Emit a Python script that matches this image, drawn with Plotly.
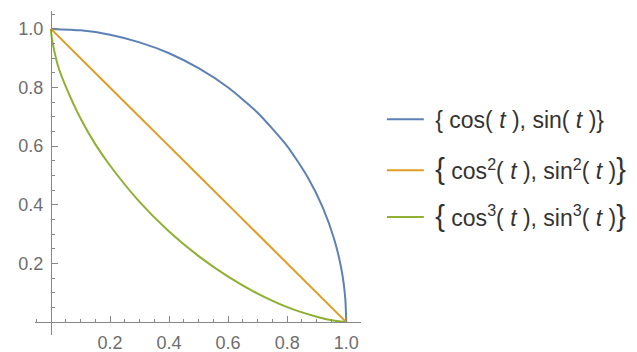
import plotly.graph_objects as go

# Values
blue_x = [0.0, 0.1, 0.2, 0.3, 0.4, 0.5, 0.6, 0.7, 0.8, 0.87, 0.92, 0.96, 0.985, 0.997, 1.0]
blue_y = [1.0, 0.995, 0.98, 0.954, 0.917, 0.866, 0.80, 0.714, 0.60, 0.493, 0.392, 0.28, 0.173, 0.077, 0.0]

orange_x = [0.0, 0.25, 0.5, 0.75, 1.0]
orange_y = [1.0, 0.75, 0.5, 0.25, 0.0]

green_x = [0.0, 0.001, 0.003, 0.01, 0.025, 0.05, 0.1, 0.15, 0.2, 0.3, 0.4, 0.5, 0.6, 0.7, 0.8, 0.9, 0.95, 1.0]
green_y = [1.0, 0.985, 0.969, 0.931, 0.87, 0.804, 0.695, 0.607, 0.534, 0.41, 0.309, 0.225, 0.155, 0.097, 0.051, 0.018, 0.006, 0.0]

big = "<span style='font-size:29px'>%s</span>"
names = [
    "&nbsp;{ cos( <i>t</i> ), sin( <i>t</i> )}",
    "&nbsp;" + big % "{" + " cos<sup>2</sup>( <i>t</i> ), sin<sup>2</sup>( <i>t</i> )" + big % "}",
    "&nbsp;" + big % "{" + " cos<sup>3</sup>( <i>t</i> ), sin<sup>3</sup>( <i>t</i> )" + big % "}",
]
colors = ["#5E81B5", "#E19C24", "#8FB032"]

tick_vals = [0.2, 0.4, 0.6, 0.8, 1.0]
tick_text = ["0.2", "0.4", "0.6", "0.8", "1.0"]

xr = [-0.054, 1.05]
yr = [-0.044, 1.061]

minor_vals = [round(k * 0.05, 2) for k in range(-1, 22) if k % 4 != 0]

legend_ids = ["legend", "legend2", "legend3"]
legend_rows = [0.666, 0.508, 0.364]

fig = go.Figure()
for i, (xs, ys) in enumerate([(blue_x, blue_y), (orange_x, orange_y), (green_x, green_y)]):
    fig.add_trace(go.Scatter(
        x=xs, y=ys, mode="lines", name=names[i],
        line=dict(color=colors[i], width=2, shape="spline", smoothing=0.6),
        legend=legend_ids[i],
    ))

axis_color = "#888888"
fam = "Liberation Sans, Arial, sans-serif"

common = dict(
    showgrid=False, zeroline=False, automargin=False,
    showline=True, linecolor=axis_color, linewidth=1,
    tickmode="array", tickvals=tick_vals, ticktext=tick_text,
    ticks="inside", ticklen=6, tickcolor=axis_color, tickwidth=1,
    minor=dict(tickmode="array", tickvals=minor_vals, ticks="inside", ticklen=3.5, tickcolor=axis_color),
    tickfont=dict(family=fam, size=18, color="#6e6e6e"),
)

legend_style = dict(
    x=1.064, xanchor="left", yanchor="middle",
    font=dict(family=fam, size=23, color="#333333"),
    itemwidth=37, bgcolor="rgba(0,0,0,0)",
)

fig.update_layout(
    width=637, height=352,
    margin=dict(l=27, r=284, t=3, b=25),
    plot_bgcolor="white", paper_bgcolor="white",
    showlegend=True,
    legend=dict(y=legend_rows[0], **legend_style),
    legend2=dict(y=legend_rows[1], **legend_style),
    legend3=dict(y=legend_rows[2], **legend_style),
    xaxis=dict(range=xr, anchor="free", position=(0 - yr[0]) / (yr[1] - yr[0]),
               ticklabelstandoff=4, **common),
    yaxis=dict(range=yr, anchor="free", position=(0 - xr[0]) / (xr[1] - xr[0]),
               ticklabelstandoff=4, **common),
)

fig.write_html("out.html")
